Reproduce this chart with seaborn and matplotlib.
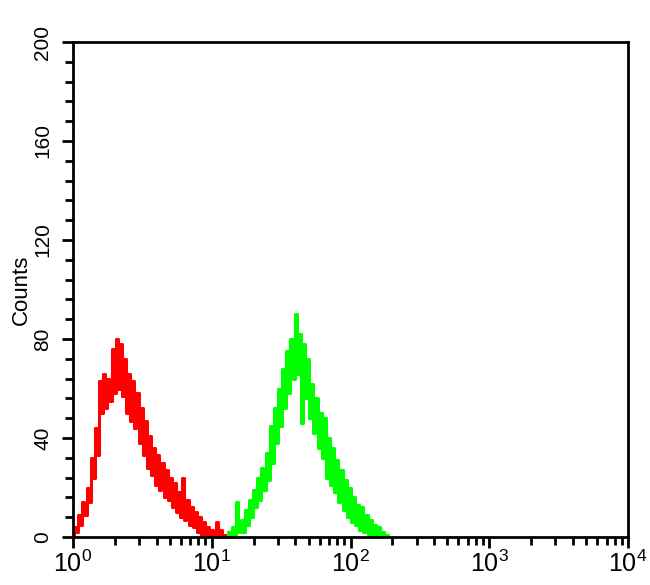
import numpy as np
import pandas as pd
import matplotlib
matplotlib.use("Agg")
import matplotlib.pyplot as plt
import seaborn as sns
from matplotlib.ticker import FixedLocator, FuncFormatter, LogLocator, NullFormatter

# ---- data ----
channel_step = 0.015  # log10 width of one channel

red_start_log = 0.0
red_counts = [0, 4, 2, 9, 5, 14, 9, 20, 14, 32, 24, 44, 33, 63, 50, 66, 52, 64, 55, 76,
              58, 80, 60, 78, 57, 72, 50, 66, 47, 63, 44, 58, 38, 52, 33, 47, 28, 41, 25, 36,
              21, 33, 19, 30, 16, 27, 15, 24, 12, 22, 10, 18, 8, 24, 7, 15, 5, 12, 4, 10,
              2, 8, 1, 6, 0, 4, 1, 3, 0, 6, 0, 3, 0, 1, 0]

green_start_log = 1.11
green_counts = [0, 2, 0, 4, 1, 14, 2, 7, 2, 11, 5, 15, 8, 19, 12, 24, 15, 28, 19, 34,
                23, 45, 30, 52, 38, 60, 45, 68, 52, 75, 58, 80, 64, 90, 66, 82, 46, 78, 56, 72,
                48, 62, 42, 56, 36, 50, 32, 48, 24, 40, 21, 36, 18, 31, 14, 27, 11, 23, 8, 20,
                6, 16, 5, 13, 3, 12, 2, 9, 1, 7, 0, 5, 0, 4, 0, 2, 0, 1, 0]

y_ticks = [0, 40, 80, 120, 160, 200]
x_decades = [0, 1, 2, 3, 4]
y_label = "Counts"

def channels(start, counts):
    lg = start + channel_step * np.arange(len(counts))
    return pd.DataFrame({"fl": 10.0 ** lg, "count": counts})

red_df = channels(red_start_log, red_counts)
green_df = channels(green_start_log, green_counts)

# ---- figure ----
sns.set_style("ticks")
plt.rcParams["font.family"] = ["Liberation Sans", "DejaVu Sans"]
plt.rcParams["mathtext.fontset"] = "custom"
plt.rcParams["mathtext.rm"] = "Liberation Sans"
plt.rcParams["mathtext.it"] = "Liberation Sans"
plt.rcParams["text.color"] = "black"
plt.rcParams["axes.labelcolor"] = "black"
plt.rcParams["xtick.color"] = "black"
plt.rcParams["ytick.color"] = "black"

fig = plt.figure(figsize=(6.5, 5.85), dpi=100)
ax = fig.add_axes([73 / 650, 1 - 537 / 585, (628 - 73) / 650, (537 - 42) / 585])

sns.lineplot(data=red_df, x="fl", y="count", ax=ax, color="#ff0000",
             linewidth=2.2, drawstyle="steps-mid", estimator=None)
sns.lineplot(data=green_df, x="fl", y="count", ax=ax, color="#00ff00",
             linewidth=2.2, drawstyle="steps-mid", estimator=None)

ax.set_xscale("log")
ax.set_xlim(10 ** x_decades[0], 10 ** x_decades[-1])
ax.set_ylim(y_ticks[0], y_ticks[-1])

ax.xaxis.set_major_locator(FixedLocator([10.0 ** d for d in x_decades]))
ax.xaxis.set_major_formatter(FuncFormatter(lambda v, p: r"$\mathregular{10^{%d}}$" % round(np.log10(v))))
ax.xaxis.set_minor_locator(LogLocator(base=10, subs=np.arange(2, 10)))
ax.xaxis.set_minor_formatter(NullFormatter())

ax.yaxis.set_major_locator(FixedLocator(y_ticks))
ax.yaxis.set_minor_locator(FixedLocator(np.arange(0, 201, 8)))

for s in ax.spines.values():
    s.set_linewidth(2.0)
    s.set_color("black")

ax.tick_params(axis="both", which="major", direction="out", length=8, width=2,
               color="black", labelcolor="black")
ax.tick_params(axis="both", which="minor", direction="out", length=6, width=2, color="black")
ax.tick_params(axis="x", which="major", labelsize=18, pad=2)
ax.tick_params(axis="y", which="major", labelsize=15, pad=7)
for lab in ax.get_yticklabels():
    lab.set_rotation(90)
    lab.set_va("center")

ax.set_xlabel("")
ax.set_ylabel(y_label, fontsize=16, labelpad=1, color="black")

fig.savefig("out.png", dpi=100, facecolor="white")
